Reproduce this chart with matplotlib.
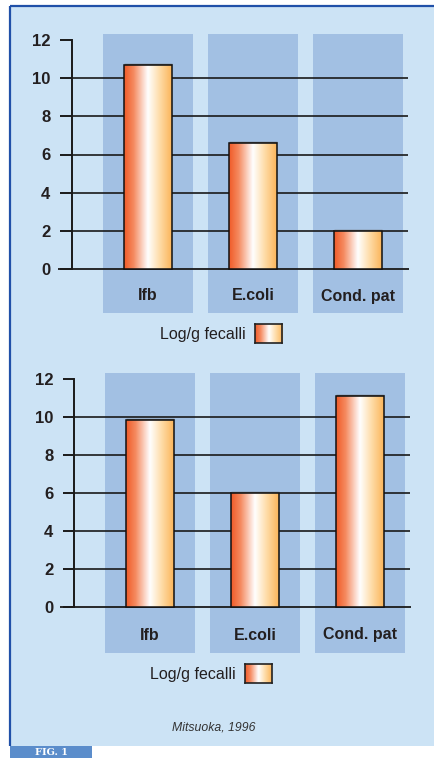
import matplotlib
matplotlib.use("Agg")
import matplotlib.pyplot as plt
import numpy as np
from matplotlib.colors import LinearSegmentedColormap
from matplotlib.patches import Rectangle

# ---------------- data ----------------
categories = ["Ifb", "E.coli", "Cond. pat"]
values_top = [10.7, 6.6, 2.0]
values_bottom = [9.85, 6.0, 11.1]
yticks = [0, 2, 4, 6, 8, 10, 12]
legend_label = "Log/g fecalli"
source_text = "Mitsuoka, 1996"
badge_text = "FIG. 1"

# ---------------- style ----------------
W, H = 434, 758
BG = "#CCE3F5"
BAND = "#A2C0E3"
FRAME = "#2050A8"
BADGE = "#5B8DCB"
GRID = "#1a1a1a"
cmap = LinearSegmentedColormap.from_list(
    "bar", [(0.0, "#F05A28"), (0.2, "#F58A60"), (0.5, "#FFFFFF"), (0.75, "#FEDBA6"), (1.0, "#FBB55A")])
FONT = ["Liberation Sans", "DejaVu Sans"]

fig = plt.figure(figsize=(W / 100, H / 100), dpi=100, facecolor="white")


def fbox(x0, y0, x1, y1):
    """pixel box (top-left origin) -> figure fraction [l, b, w, h]"""
    return [x0 / W, 1 - y1 / H, (x1 - x0) / W, (y1 - y0) / H]


# background frame
bg = fig.add_axes([0, 0, 1, 1])
bg.set_xlim(0, W)
bg.set_ylim(H, 0)
bg.axis("off")
bg.add_patch(Rectangle((10, 6), W, 740, facecolor=BG, edgecolor="none"))
bg.plot([10, W], [6, 6], color=FRAME, lw=1.6, solid_capstyle="butt")
bg.plot([10, 10], [6, 746], color=FRAME, lw=1.6, solid_capstyle="butt")
bg.add_patch(Rectangle((10, 746), 82, 20, facecolor=BADGE, edgecolor="none"))
bg.text(51, 752.5, badge_text, color="white", fontsize=7, fontweight="bold",
        family="DejaVu Serif", va="center", ha="center")


def gradient_box(ax, x0, x1, y0, y1, **kw):
    grad = np.linspace(0, 1, 256).reshape(1, -1)
    im = ax.imshow(grad, extent=[x0, x1, y0, y1], aspect="auto", cmap=cmap,
                   interpolation="bicubic", **kw)
    return im


def panel(box, ypix0, ypix12, centers_px, values, yaxis_px, grid_r_px,
          base_l_px, tick_len_px, label_y_px):
    x0p, y0p, x1p, y1p = box
    ax = fig.add_axes(fbox(*box))
    ax.patch.set_alpha(0)
    spacing = centers_px[1] - centers_px[0]
    ppu_y = (ypix0 - ypix12) / 12.0

    def dx(px):
        return (px - centers_px[0]) / spacing

    def dy(py):
        return (ypix0 - py) / ppu_y

    ax.set_xlim(dx(x0p), dx(x1p))
    ax.set_ylim(dy(y1p), dy(y0p))
    xs = np.arange(len(categories))
    band_w = 90 / spacing
    bar_w = 48 / spacing
    for x in xs:
        ax.axvspan(x - band_w / 2, x + band_w / 2, color=BAND, lw=0, zorder=0)
    # grid lines (none at the top tick)
    ax.hlines(yticks[1:-1], dx(yaxis_px), dx(grid_r_px), color=GRID, lw=1.2, zorder=1)
    ax.hlines(0, dx(base_l_px), dx(grid_r_px + 1), color=GRID, lw=1.3, zorder=1)
    # bars
    bars = ax.bar(xs, values, width=bar_w, facecolor="none", edgecolor="#111111",
                  lw=1.1, zorder=4)
    for b, v in zip(bars, values):
        im = gradient_box(ax, b.get_x(), b.get_x() + b.get_width(), 0, v, zorder=3)
        im.set_clip_path(b)
        ax.hlines(v + 0.06, b.get_x(), b.get_x() + b.get_width(), color="#6a6a6a",
                  lw=1.0, zorder=3.5)
    # y axis
    for s in ["top", "right", "bottom"]:
        ax.spines[s].set_visible(False)
    ax.spines["left"].set_position(("data", dx(yaxis_px)))
    ax.spines["left"].set_bounds(0, 12)
    ax.spines["left"].set_linewidth(1.4)
    ax.spines["left"].set_color(GRID)
    ax.set_yticks(yticks)
    ax.set_yticklabels([str(t) for t in yticks], family=FONT, fontweight="bold",
                       fontsize=12, color="#231f20")
    ax.tick_params(axis="y", direction="out", length=tick_len_px * 0.72, width=1.4,
                   pad=7, color=GRID)
    ax.set_xticks([])
    for x, c in zip(xs, categories):
        ax.text(x, dy(label_y_px), c, ha="center", va="center", family=FONT,
                fontweight="bold", fontsize=11.5, color="#231f20")
    return ax


panel((40, 34, 420, 313), 269, 40, [148, 253, 358], values_top,
      72, 408, 58, 12, 296)
panel((40, 373, 420, 653), 607, 379, [150, 255, 360], values_bottom,
      74, 410, 60, 11, 635)


def legend(text_right_px, box_px, y_center_px):
    fig.text(text_right_px / W, 1 - y_center_px / H, legend_label, ha="right",
             va="center", family=FONT, fontsize=11.5, color="#231f20")
    lax = fig.add_axes(fbox(*box_px))
    grad = np.linspace(0, 1, 256).reshape(1, -1)
    lax.imshow(grad, aspect="auto", cmap=cmap, interpolation="bicubic")
    lax.set_xticks([])
    lax.set_yticks([])
    for s in lax.spines.values():
        s.set_linewidth(1.2)
        s.set_color("#222222")


legend(246, (255, 324, 282, 343), 334)
legend(236, (245, 664, 272, 683), 674)

fig.text(214 / W, 1 - 728 / H, source_text, ha="center", va="center",
         family=FONT, style="italic", fontsize=8.8, color="#333333")

fig.savefig("out.png", dpi=100, facecolor="white")
